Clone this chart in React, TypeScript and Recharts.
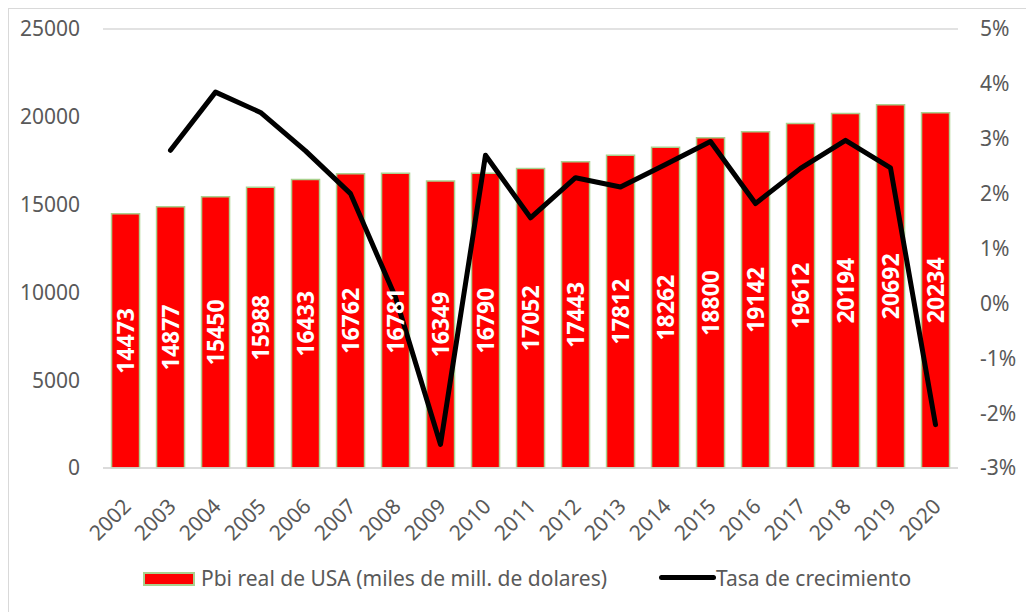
import { ComposedChart, Bar, Line, XAxis, YAxis, CartesianGrid, Legend, LabelList } from 'recharts'

const years = ['2002', '2003', '2004', '2005', '2006', '2007', '2008', '2009', '2010', '2011',
  '2012', '2013', '2014', '2015', '2016', '2017', '2018', '2019', '2020']
const gdp = [14473, 14877, 15450, 15988, 16433, 16762, 16781, 16349, 16790, 17052,
  17443, 17812, 18262, 18800, 19142, 19612, 20194, 20692, 20234]
const growth = [null, 2.79, 3.85, 3.48, 2.78, 2.0, 0.11, -2.57, 2.7, 1.56,
  2.29, 2.12, 2.53, 2.95, 1.82, 2.46, 2.97, 2.47, -2.21]
const leftTicks = [0, 5000, 10000, 15000, 20000, 25000]
const rightTicks = [-3, -2, -1, 0, 1, 2, 3, 4, 5]

const barName = 'Pbi real de USA (miles de mill. de dolares)'
const lineName = 'Tasa de crecimiento'

const data = years.map((y, i) => ({ year: y, gdp: gdp[i], growth: growth[i] }))

const FONT = "'Noto Sans', sans-serif"
const GREY = '#595959'

const YearTick = (props: any) => {
  const { x, y, payload } = props
  const ax = x - 4
  const ay = y + 21
  return (
    <text x={ax} y={ay} dy="0.72em" textAnchor="end" transform={`rotate(-45 ${ax} ${ay})`}
      fontFamily={FONT} fontSize={21} fill={GREY}>
      {payload.value}
    </text>
  )
}

const BarValue = (props: any) => {
  const { x, y, width, height, value } = props
  const cx = x + width / 2
  const cy = y + height / 2
  return (
    <text x={cx} y={cy} dy="0.36em" textAnchor="middle" transform={`rotate(-90 ${cx} ${cy})`}
      fontFamily={FONT} fontSize={23} fontWeight="bold" fill="#ffffff">
      {value}
    </text>
  )
}

const LegendBox = () => (
  <div style={{ position: 'relative', height: 30, fontFamily: FONT, fontSize: 21, color: GREY }}>
    <div style={{ position: 'absolute', left: 134, top: 8, width: 48, height: 10, background: '#ff0000', border: '2px solid #a9d18e' }} />
    <span style={{ position: 'absolute', left: 192, top: 0, lineHeight: '28px', whiteSpace: 'nowrap' }}>{barName}</span>
    <div style={{ position: 'absolute', left: 650, top: 11, width: 57, height: 5, background: '#000', borderRadius: 3 }} />
    <span style={{ position: 'absolute', left: 707, top: 0, lineHeight: '28px', whiteSpace: 'nowrap' }}>{lineName}</span>
  </div>
)

export default function App() {
  return (
    <div style={{ width: 1026, height: 604, borderTop: '1px solid #d9d9d9', borderLeft: '1px solid #d9d9d9', background: '#fff' }}>
      <ComposedChart width={1025} height={603} data={data} margin={{ top: 20, right: 0, left: 0, bottom: 0 }}
        barCategoryGap="19%">
        <CartesianGrid vertical={false} stroke="#d9d9d9" strokeWidth={1.5} />
        <XAxis dataKey="year" height={144} tickLine={false} axisLine={{ stroke: '#d9d9d9', strokeWidth: 1.5 }}
          tick={<YearTick />} interval={0} />
        <YAxis yAxisId="left" width={94} domain={[0, 25000]} ticks={leftTicks} axisLine={false} tickLine={false}
          tickSize={0} tickMargin={23} tick={{ fontFamily: FONT, fontSize: 21, fill: GREY }} />
        <YAxis yAxisId="right" orientation="right" width={76} domain={[-3, 5]} ticks={rightTicks}
          axisLine={false} tickLine={false} tickSize={0} tickMargin={22} tickFormatter={(v) => `${v}%`}
          tick={{ fontFamily: FONT, fontSize: 21, fill: GREY, textAnchor: 'start' }} />
        <Legend verticalAlign="middle" align="center" layout="horizontal" content={<LegendBox />}
          wrapperStyle={{ top: 555, left: 0, width: 1025 }} />
        <Bar yAxisId="left" dataKey="gdp" name={barName} fill="#ff0000" stroke="#a9d18e" strokeWidth={1.5}
          isAnimationActive={false}>
          <LabelList dataKey="gdp" content={<BarValue />} />
        </Bar>
        <Line yAxisId="right" dataKey="growth" name={lineName} stroke="#000000" strokeWidth={5} dot={false}
          activeDot={false} strokeLinejoin="round" strokeLinecap="round" connectNulls={false} isAnimationActive={false} />
      </ComposedChart>
    </div>
  )
}
